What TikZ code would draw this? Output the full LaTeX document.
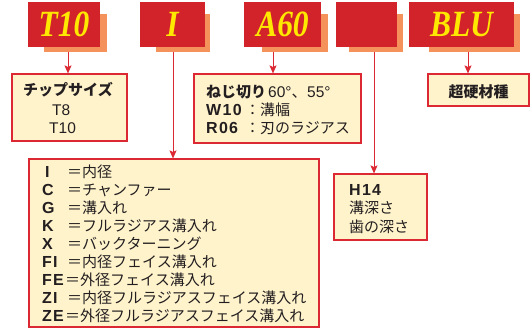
\documentclass[tikz,border=0pt]{standalone}
\usepackage{fontspec}
\setmainfont{Liberation Sans}
\newfontfamily\jp{Noto Sans CJK JP}
\newfontfamily\latb[LetterSpace=8]{Liberation Sans}
\newfontfamily\codefont[FakeStretch=0.85]{Liberation Serif}
\usetikzlibrary{arrows.meta}
\definecolor{cred}{RGB}{210,35,42}
\definecolor{cshadow}{RGB}{245,145,90}
\definecolor{cyel}{RGB}{255,232,0}
\definecolor{ccream}{RGB}{255,243,204}
\definecolor{cline}{RGB}{220,40,50}
\definecolor{ctext}{RGB}{35,31,32}
\begin{document}
\begin{tikzpicture}[x=1pt,y=-1pt,
  codebox/.style={fill=cred,draw=none,inner sep=0,text=cyel,
    font=\codefont\bfseries\itshape\fontsize{37}{37}\selectfont},
  shadowbox/.style={fill=cshadow,draw=none,inner sep=0},
  infobox/.style={fill=ccream,draw=cline,line width=1.1pt,inner sep=0},
  conn/.style={draw=cline,line width=1pt},
  arr/.style={conn,-{Stealth[length=8pt,width=7pt,inset=1.5pt]}},
  txt/.style={inner sep=0,anchor=base west,text=ctext,font=\fontsize{15.5}{18}\selectfont},
  jtxt/.style={txt,font=\jp\fontsize{15}{18}\selectfont},
  jbtxt/.style={txt,font=\jp\bfseries\fontsize{15}{18}\selectfont},
  btxt/.style={txt,font=\latb\bfseries\fontsize{16}{18}\selectfont}]
\useasboundingbox (0,0) rectangle (531,329);
% shadows
\node[shadowbox,minimum width=63pt,minimum height=38pt] (t10s) at (75.5,33) {};
\node[shadowbox,minimum width=54pt,minimum height=38pt] (is) at (183,33) {};
\node[shadowbox,minimum width=66pt,minimum height=38pt] (a60s) at (295,33) {};
\node[shadowbox,minimum width=54pt,minimum height=38pt] (hs) at (376,33) {};
\node[shadowbox,minimum width=91pt,minimum height=38pt] (blus) at (474.5,33) {};
% code boxes
\node[codebox,minimum width=72pt,minimum height=45pt] (t10) at (64,24.5) {T10};
\node[codebox,minimum width=65pt,minimum height=45pt] (icode) at (172.5,24.5) {I};
\node[codebox,minimum width=77pt,minimum height=45pt] (a60) at (282.5,24.5) {A60};
\node[codebox,minimum width=61pt,minimum height=45pt] (hcode) at (366.5,24.5) {};
\node[codebox,minimum width=105pt,minimum height=45pt] (blu) at (461.5,24.5) {BLU};
% info boxes
\node[infobox,minimum width=115pt,minimum height=67pt] (chip) at (69.5,107.5) {};
\node[infobox,minimum width=167pt,minimum height=69pt] (thread) at (277.5,108.5) {};
\node[infobox,minimum width=101pt,minimum height=32pt] (mat) at (478.5,90) {};
\node[infobox,minimum width=93pt,minimum height=66pt] (depth) at (380.5,207) {};
\node[infobox,minimum width=290pt,minimum height=168pt] (type) at (174,243) {};
% connector x positions
\coordinate (x1) at (68,0);
\coordinate (x2) at (173,0);
\coordinate (x3) at (273,0);
\coordinate (x4) at (374,0);
\coordinate (x5) at (468,0);
\draw[arr] (t10s.south -| x1) -- (chip.north -| x1);
\draw[arr] (is.south -| x2) -- (type.north -| x2);
\draw[arr] (a60s.south -| x3) -- (thread.north -| x3);
\draw[arr] (hs.south -| x4) -- (depth.north -| x4);
\draw[arr] (blus.south -| x5) -- (mat.north -| x5);
% chip box text
\node[jbtxt,anchor=base] (c1) at (68,95.5) {チップサイズ};
\node[txt] (c2) at (52,115.5) {T8};
\node[txt] (c3) at (49,133.5) {T10};
% thread box text
\node[jbtxt] (t1) at (206,97.5) {ねじ切り};
\node[txt] (t1b) at (268,97.5) {60°{\jp 、}55°};
\node[btxt] (t2) at (206,115.5) {W10};
\node[jtxt] (t2b) at (245,115.5) {：溝幅};
\node[btxt] (t3) at (206,133.5) {R06};
\node[jtxt] (t3b) at (245,133.5) {：刃のラジアス};
% material
\node[jbtxt,anchor=base] (m1) at (478.5,97.5) {超硬材種};
% depth box
\node[btxt] (d1) at (349,195.5) {H14};
\node[jtxt] (d2) at (349,213.5) {溝深さ};
\node[jtxt] (d3) at (349,232) {歯の深さ};
% type box
\foreach \i/\l/\lx/\r/\rx in {
  0/I/45/＝内径/67,
  1/C/42/＝チャンファー/67,
  2/G/42/＝溝入れ/67,
  3/K/42/＝フルラジアス溝入れ/67,
  4/X/42/＝バックターニング/67,
  5/FI/42/＝内径フェイス溝入れ/67,
  6/FE/42/＝外径フェイス溝入れ/65,
  7/ZI/42/＝内径フルラジアスフェイス溝入れ/67,
  8/ZE/42/＝外径フルラジアスフェイス溝入れ/65}{
  \node[btxt] (L\i) at (\lx,177.5+18*\i) {\l};
  \node[jtxt] (R\i) at (\rx,177.5+18*\i) {\r};
}
\end{tikzpicture}
\end{document}
